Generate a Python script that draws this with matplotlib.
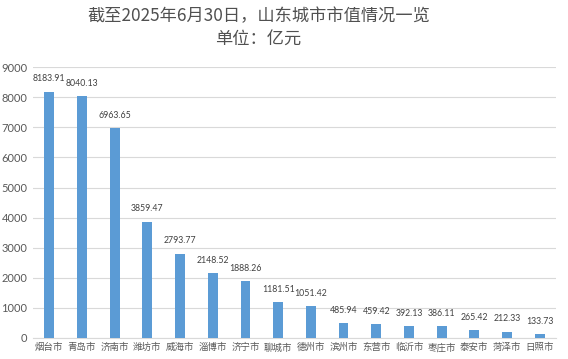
import matplotlib.pyplot as plt

plt.rcParams['font.family'] = ['Noto Sans CJK SC', 'DejaVu Sans']

cities = ["烟台市", "青岛市", "济南市", "潍坊市", "威海市", "淄博市", "济宁市", "聊城市",
          "德州市", "滨州市", "东营市", "临沂市", "枣庄市", "泰安市", "菏泽市", "日照市"]
values = [8183.91, 8040.13, 6963.65, 3859.47, 2793.77, 2148.52, 1888.26, 1181.51,
          1051.42, 485.94, 459.42, 392.13, 386.11, 265.42, 212.33, 133.73]
yticks = list(range(0, 9001, 1000))

GREY = "#595959"
BLUE = "#5b9bd5"

fig = plt.figure(figsize=(5.68, 3.59), dpi=100)
ax = fig.add_axes([0.058, 0.0585, 0.921, 0.7545])

x = range(len(cities))
ax.bar(x, values, width=0.3, color=BLUE, zorder=3)
for i, v in zip(x, values):
    ax.text(i, v + 280, f"{v:.2f}", ha="center", va="bottom", fontsize=6.3,
            color="#404040", family="Lato")

ax.set_xlim(-0.5, len(cities) - 0.5)
ax.set_ylim(0, 9000)
ax.set_yticks(yticks)
ax.set_yticklabels([str(t) for t in yticks], fontsize=8, color=GREY, family="Lato")
ax.set_xticks(list(x))
ax.set_xticklabels(cities, fontsize=6.8, color=GREY)
ax.tick_params(length=0)
ax.tick_params(axis="y", pad=4)
ax.grid(axis="y", color="#d9d9d9", linewidth=0.8, zorder=0)
for s in ["top", "right", "left"]:
    ax.spines[s].set_visible(False)
ax.spines["bottom"].set_color("#d9d9d9")

fig.text(0.455, 0.955, "截至2025年6月30日，山东城市市值情况一览", ha="center", va="center",
         fontsize=12.4, color="#505050", weight="medium")
fig.text(0.455, 0.89, "单位：亿元", ha="center", va="center", fontsize=12.4,
         color="#505050", weight="medium")

fig.savefig("out.png", dpi=100)
